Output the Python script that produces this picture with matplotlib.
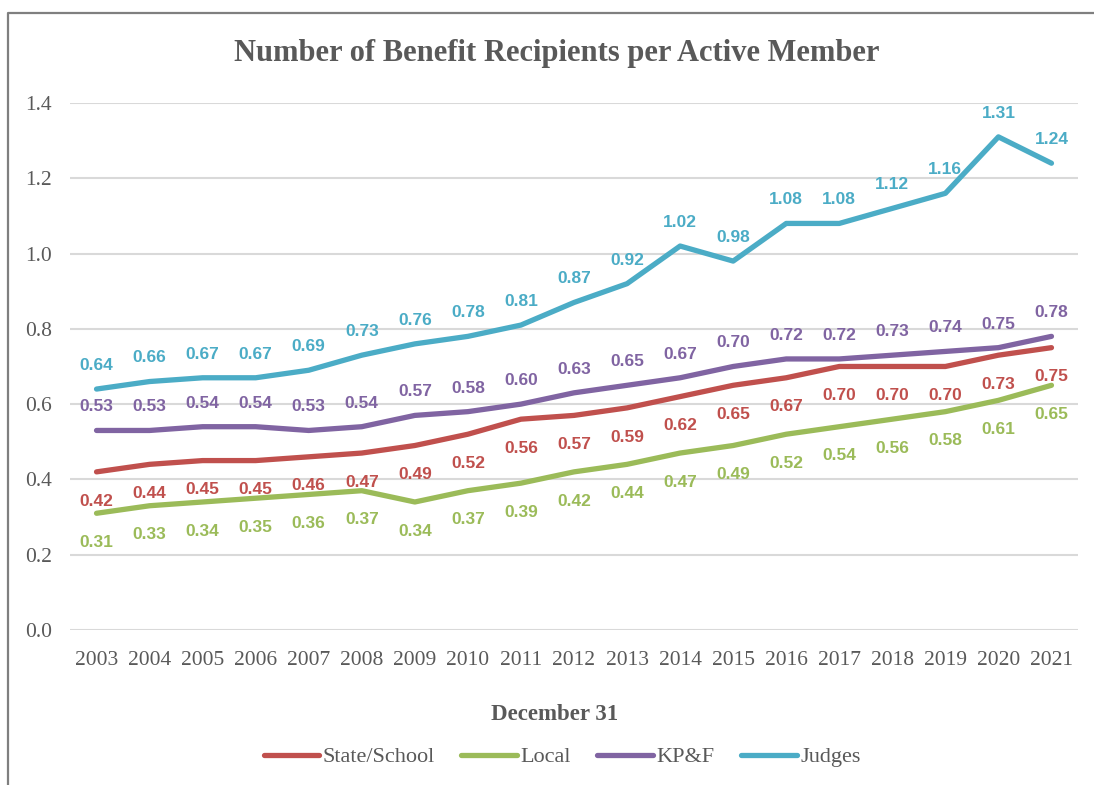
import matplotlib
matplotlib.use('Agg')
from matplotlib import pyplot as plt
from matplotlib.lines import Line2D
import numpy as np

years = ['2003', '2004', '2005', '2006', '2007', '2008', '2009', '2010', '2011', '2012',
         '2013', '2014', '2015', '2016', '2017', '2018', '2019', '2020', '2021']
state_school = [0.42, 0.44, 0.45, 0.45, 0.46, 0.47, 0.49, 0.52, 0.56, 0.57,
                0.59, 0.62, 0.65, 0.67, 0.70, 0.70, 0.70, 0.73, 0.75]
local = [0.31, 0.33, 0.34, 0.35, 0.36, 0.37, 0.34, 0.37, 0.39, 0.42,
         0.44, 0.47, 0.49, 0.52, 0.54, 0.56, 0.58, 0.61, 0.65]
kpf = [0.53, 0.53, 0.54, 0.54, 0.53, 0.54, 0.57, 0.58, 0.60, 0.63,
       0.65, 0.67, 0.70, 0.72, 0.72, 0.73, 0.74, 0.75, 0.78]
judges = [0.64, 0.66, 0.67, 0.67, 0.69, 0.73, 0.76, 0.78, 0.81, 0.87,
          0.92, 1.02, 0.98, 1.08, 1.08, 1.12, 1.16, 1.31, 1.24]

txt = '#595959'
serif = 'Liberation Serif'
sans = 'Liberation Sans'

fig = plt.figure(figsize=(10.94, 7.85), dpi=100)
ax = fig.add_axes([70/1094, 0.1975, (1078-70)/1094, 0.8688-0.1975])

x = np.arange(len(years))
# (name, values, colour, label above?)
series = [('State/School', state_school, '#C0504D', False),
          ('Local', local, '#9BBB59', False),
          ('KP&F', kpf, '#8064A2', True),
          ('Judges', judges, '#4BACC6', True)]

for name, vals, col, above in series:
    ax.plot(x, vals, color=col, lw=3.8, label=name, solid_capstyle='round', zorder=3)
    for xi, v in zip(x, vals):
        off = 17 if above else -21
        ax.annotate('%.2f' % v, (xi, v), xytext=(0, off), textcoords='offset points',
                    ha='center', va='center', fontsize=12.5, fontweight='bold',
                    color=col, family=sans)

ax.set_xlim(-0.5, len(years) - 0.5)
ax.set_ylim(0, 1.4)
ax.set_yticks(np.arange(0, 1.41, 0.2))
ax.set_yticklabels(['%.1f' % t for t in np.arange(0, 1.41, 0.2)])
ax.set_xticks(x)
ax.set_xticklabels(years)
ax.yaxis.grid(True, color='#d9d9d9', lw=1.5)
ax.set_axisbelow(True)
for s in ax.spines.values():
    s.set_visible(False)
ax.tick_params(length=0, labelsize=15.5, labelcolor=txt, pad=0)
ax.tick_params(axis='x', pad=15)
ax.tick_params(axis='y', pad=13)
for lab in ax.get_xticklabels() + ax.get_yticklabels():
    lab.set_family(serif)

fig.text(557/1094, 1 - 53/785, 'Number of Benefit Recipients per Active Member',
         ha='center', va='center', fontsize=22, fontweight='bold', color=txt, family=serif)
fig.text(555/1094, 1 - 714/785, 'December 31', ha='center', va='center',
         fontsize=16.5, fontweight='bold', color=txt, family=serif)

leg = fig.legend(loc='center', bbox_to_anchor=(562/1094, 1 - 757/785), ncol=4, frameon=False,
                 prop={'family': serif, 'size': 16}, handlelength=2.5, columnspacing=1.2,
                 handletextpad=0.15)
for t in leg.get_texts():
    t.set_color(txt)

# chart border (runs off the right and bottom edges)
fig.add_artist(Line2D([8/1094, 8/1094, 1.05], [-0.05, 1 - 13/785, 1 - 13/785],
                      transform=fig.transFigure, color='#7f7f7f', lw=1.6))

fig.savefig('out.png', dpi=100)
